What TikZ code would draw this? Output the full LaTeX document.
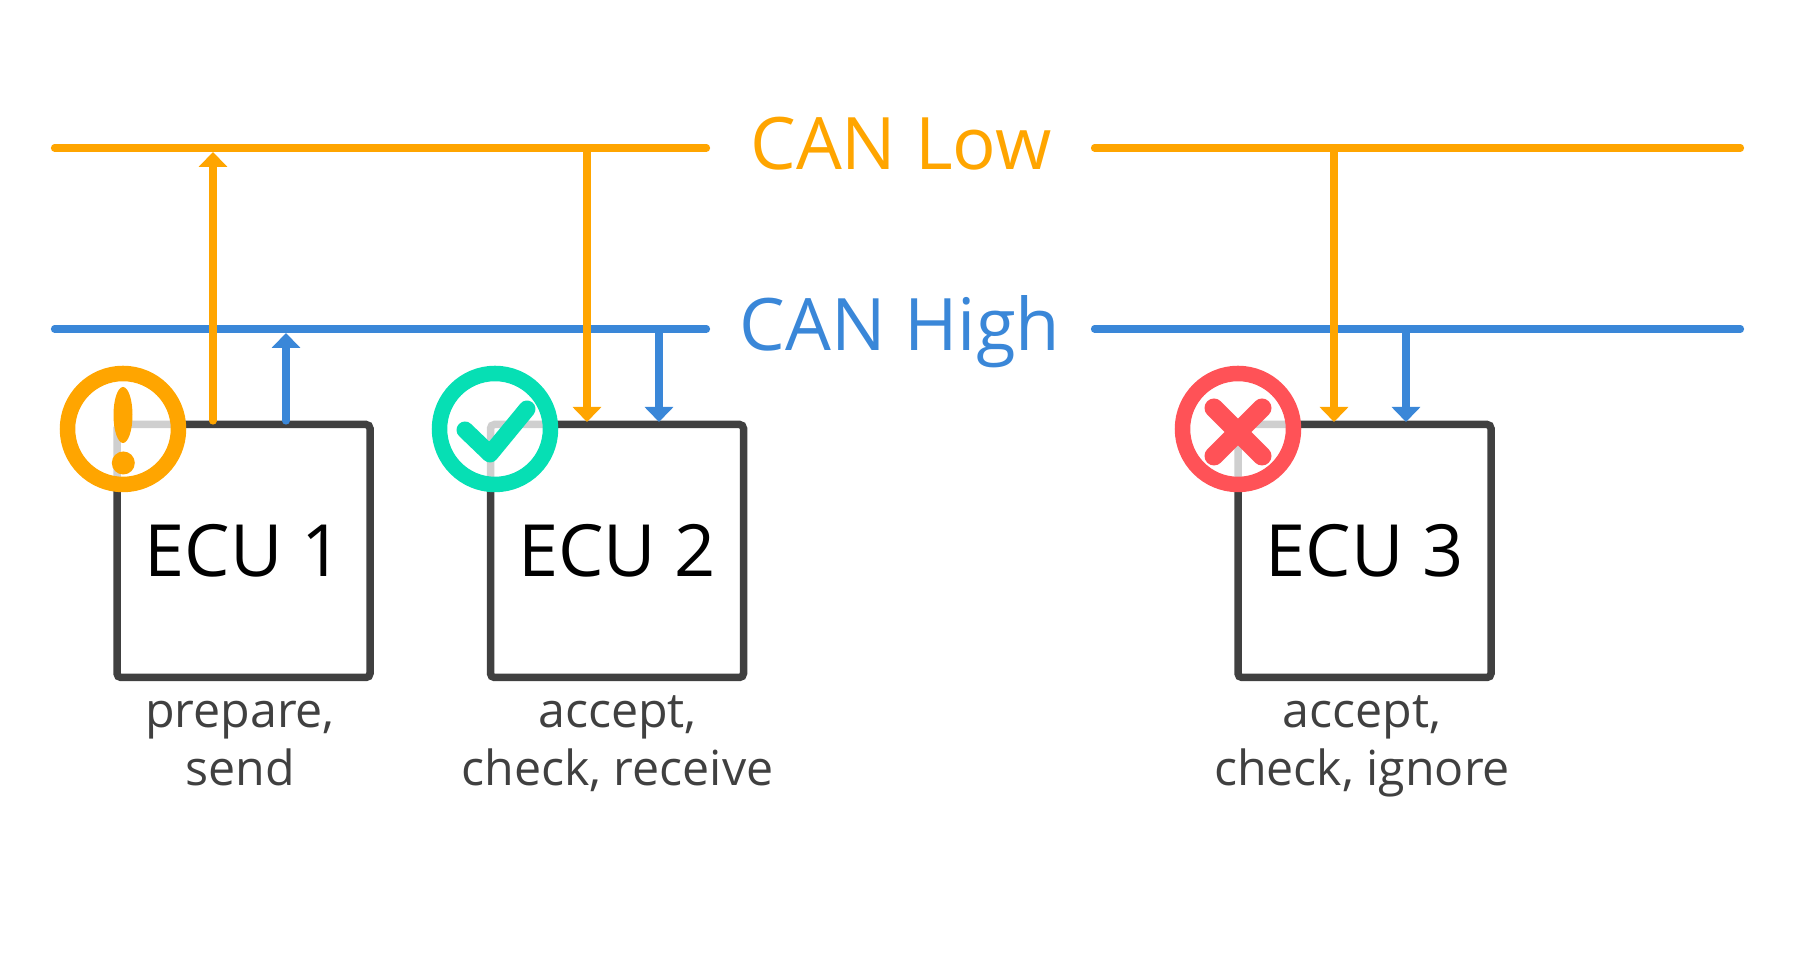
\documentclass[tikz,border=0pt]{standalone}
\usepackage{fontspec}
\setmainfont{Open Sans}
\usetikzlibrary{arrows.meta}
\definecolor{canLowCol}{HTML}{FFA500}
\definecolor{canHighCol}{HTML}{3A87D8}
\definecolor{okCol}{HTML}{06DFB4}
\definecolor{badCol}{HTML}{FF5257}
\definecolor{boxCol}{HTML}{404040}
\begin{document}
\begin{tikzpicture}[
                canLowBus/.style={draw=canLowCol,line width=0.072cm,line cap=round},
                canHighBus/.style={draw=canHighCol,line width=0.072cm,line cap=round},
                canTip/.style={-{Triangle[length=0.15cm,width=0.28cm]}},
                busLabel/.style={anchor=base,inner sep=0pt,font=\fontsize{20.6}{24}\selectfont},
                ecuBox/.style={draw=boxCol,line width=0.075cm,rounded corners=0.04cm,
                               minimum size=2.53cm,inner sep=0pt,text=black,
                               font=\fontsize{20.5}{24}\selectfont},
                ecuLabel/.style={anchor=base,inner sep=0pt,align=center,text=boxCol,
                                 font=\fontsize{13.75}{16.6}\selectfont},
                ecuIcon/.style={circle,fill=white,fill opacity=0.75,line width=0.155cm,
                                minimum size=1.11cm,inner sep=0pt}]
                \useasboundingbox (0,0) rectangle (18.03,9.59);

                % Bus lines, each cut by its label.
                \node[busLabel,text=canLowCol] (lowName) at (9.01,7.89) {CAN Low};
                \node[busLabel,text=canHighCol] (highName) at (9.00,6.08) {CAN High};
                \coordinate (lowA) at (0.545,8.11);
                \coordinate (lowB) at (7.065,8.11);
                \coordinate (lowC) at (10.945,8.11);
                \coordinate (lowD) at (17.405,8.11);
                \coordinate (highA) at (0.545,6.30);
                \coordinate (highB) at (7.065,6.30);
                \coordinate (highC) at (10.945,6.30);
                \coordinate (highD) at (17.405,6.30);
                \draw[canLowBus] (lowA)--(lowB) (lowC)--(lowD);
                \draw[canHighBus] (highA)--(highB) (highC)--(highD);


                % ECU 1: sends on both lines.
                \node[ecuBox] (ecuOne) at (2.435,4.08) {ECU 1};
                \node[ecuLabel] (ecuOneText) at (2.40,1.734) {prepare,\\send};
                \coordinate (a1) at (2.13,5.38);
                \coordinate (a2) at (2.13,8.07);
                \coordinate (b1) at (2.86,5.38);
                \coordinate (b2) at (2.86,6.26);
                \draw[canLowBus,canTip] (a1)--(a2);
                \draw[canHighBus,canTip] (b1)--(b2);
                \node[ecuIcon,draw=canLowCol] (iconOne) at (1.23,5.30) {};
                \fill[canLowCol] (1.23,5.44) ellipse (0.095 and 0.28);
                \fill[canLowCol] (1.233,4.96) circle (0.115);


                % ECU 2: receives from both lines.
                \node[ecuBox] (ecuTwo) at (6.17,4.08) {ECU 2};
                \node[ecuLabel] (ecuTwoText) at (6.175,1.734) {accept,\\check, receive};
                \coordinate (c1) at (5.87,8.11);
                \coordinate (c2) at (5.87,5.37);
                \coordinate (d1) at (6.59,6.30);
                \coordinate (d2) at (6.59,5.37);
                \draw[canLowBus,canTip] (c1)--(c2);
                \draw[canHighBus,canTip] (d1)--(d2);
                \node[ecuIcon,draw=okCol] (iconTwo) at (4.95,5.30) {};
                \draw[okCol,line width=0.17cm,line cap=round,line join=round]
                    (4.65,5.29)--(4.90,5.05)--(5.27,5.50);


                % ECU 3: reads both lines and drops the frame.
                \node[ecuBox] (ecuThree) at (13.645,4.08) {ECU 3};
                \node[ecuLabel] (ecuThreeText) at (13.62,1.734) {accept,\\check, ignore};
                \coordinate (e1) at (13.34,8.11);
                \coordinate (e2) at (13.34,5.37);
                \coordinate (f1) at (14.06,6.30);
                \coordinate (f2) at (14.06,5.37);
                \draw[canLowBus,canTip] (e1)--(e2);
                \draw[canHighBus,canTip] (f1)--(f2);
                \node[ecuIcon,draw=badCol] (iconThree) at (12.38,5.30) {};
                \draw[badCol,line width=0.19cm,line cap=round]
                    (12.14,5.51)--(12.62,5.03) (12.62,5.51)--(12.14,5.03);

            \end{tikzpicture}
\end{document}
